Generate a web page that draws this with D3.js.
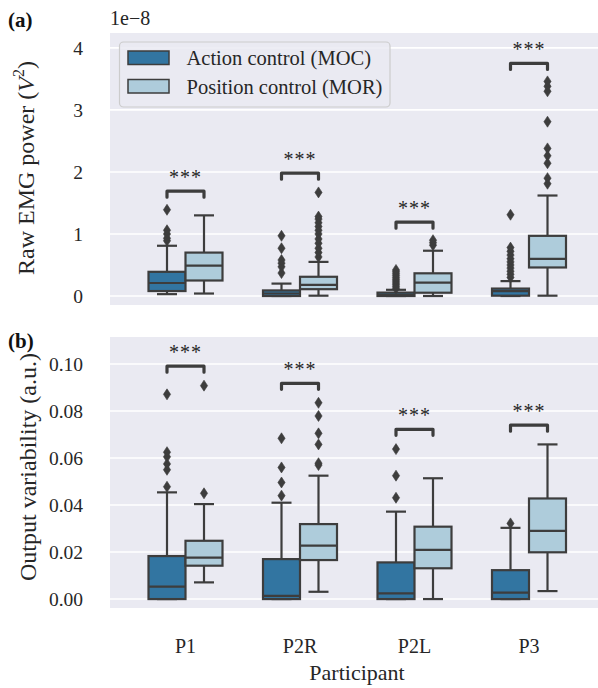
<!DOCTYPE html>
<html><head><meta charset="utf-8">
<script src="https://cdn.jsdelivr.net/npm/d3@7"></script>
<style>body{margin:0;background:#fff}svg{display:block}</style>
</head><body>
<svg id="chart" width="598" height="688"></svg>
<script>
const categories = ["P1", "P2R", "P2L", "P3"];
const hueNames = ["Action control (MOC)", "Position control (MOR)"];
const hueColors = ["#3275a1", "#aeccdb"];

// Panel (a): raw EMG power (x 1e-8), stats = [whiskerLow, q1, median, q3, whiskerHigh]
const emgMOCStats = [[0.03, 0.08, 0.21, 0.39, 0.81], [0.0, 0.0, 0.04, 0.09, 0.20], [0.0, 0.0, 0.02, 0.055, 0.10], [0.0, 0.005, 0.08, 0.12, 0.24]];
const emgMORStats = [[0.04, 0.25, 0.49, 0.70, 1.30], [0.005, 0.11, 0.18, 0.31, 0.55], [0.0, 0.053, 0.215, 0.366, 0.73], [0.005, 0.46, 0.60, 0.97, 1.62]];
const emgMOCOutliers = [[0.89, 0.93, 1.0, 1.06, 1.39], [0.37, 0.47, 0.53, 0.58, 0.77, 0.97], [0.12, 0.15, 0.18, 0.21, 0.24, 0.27, 0.30, 0.33, 0.36, 0.39, 0.42], [0.30, 0.35, 0.40, 0.45, 0.50, 0.55, 0.60, 0.66, 0.72, 0.78, 1.31]];
const emgMOROutliers = [[], [0.63, 0.70, 0.77, 0.85, 0.92, 1.0, 1.06, 1.12, 1.18, 1.24, 1.28, 1.67], [0.82, 0.86, 0.90], [1.81, 1.90, 2.14, 2.26, 2.38, 2.81, 3.30, 3.38, 3.46]];
const emgBrackets = [1.69, 1.98, 1.19, 3.75];
const emgTicks = [0, 1, 2, 3, 4];

// Panel (b): output variability
const varMOCStats = [[0, 0, 0.0053, 0.0183, 0.0454], [0, 0, 0.0014, 0.017, 0.041], [0, 0, 0.0024, 0.0156, 0.0372], [0, 0, 0.0027, 0.0123, 0.0303]];
const varMORStats = [[0.0071, 0.0142, 0.0176, 0.0248, 0.0404], [0.0031, 0.0166, 0.0227, 0.0319, 0.0525], [0, 0.0131, 0.0209, 0.0308, 0.0514], [0.0034, 0.0199, 0.029, 0.0428, 0.0658]];
const varMOCOutliers = [[0.0478, 0.055, 0.0575, 0.0605, 0.0625, 0.0871], [0.044, 0.0496, 0.056, 0.0684], [0.0431, 0.0525, 0.0638], [0.0322]];
const varMOROutliers = [[0.045, 0.0908], [0.057, 0.0578, 0.0658, 0.0705, 0.0779, 0.0835], [], []];
const varBrackets = [0.0991, 0.0918, 0.0722, 0.074];
const varTicks = [0, 0.02, 0.04, 0.06, 0.08, 0.10];

const sigLabel = "***";

const svg = d3.select("#chart");
const FONT = "'Liberation Serif','Times New Roman',serif";
const LINE = "#3d3d3d";
const BG = "#eaeaf2";
const panelLeft = 110, panelRight = 598;
const boxW = 37;

const x = d3.scalePoint().domain(categories).range([185.5, 529]);

function drawPanel(opts) {
  const {y, top, bottom, ticks, fmt, moc, mor, mocOut, morOut, brackets} = opts;
  const g = svg.append("g");
  g.append("rect").attr("x", panelLeft).attr("y", top).attr("width", panelRight - panelLeft).attr("height", bottom - top).attr("fill", BG);
  g.selectAll("line.grid").data(ticks).join("line")
    .attr("x1", panelLeft).attr("x2", panelRight)
    .attr("y1", d => y(d)).attr("y2", d => y(d))
    .attr("stroke", "#fff").attr("stroke-width", 1.6);
  g.selectAll("text.tick").data(ticks).join("text")
    .attr("x", 83).attr("y", d => y(d)).attr("dy", "0.36em")
    .attr("text-anchor", "end").attr("font-family", FONT).attr("font-size", 19.5).attr("fill", "#262626")
    .text(fmt);

  const series = [moc, mor];
  const outs = [mocOut, morOut];
  series.forEach((stats, h) => {
    categories.forEach((c, i) => {
      const s = stats[i];
      const cx = x(c) + (h === 0 ? -boxW / 2 : boxW / 2);
      const bx = cx - boxW / 2;
      g.append("line").attr("x1", cx).attr("x2", cx).attr("y1", y(s[0])).attr("y2", y(s[1]))
        .attr("stroke", LINE).attr("stroke-width", 2.2);
      g.append("line").attr("x1", cx).attr("x2", cx).attr("y1", y(s[3])).attr("y2", y(s[4]))
        .attr("stroke", LINE).attr("stroke-width", 2.2);
      [s[0], s[4]].forEach(v => {
        g.append("line").attr("x1", cx - 10).attr("x2", cx + 10).attr("y1", y(v)).attr("y2", y(v))
          .attr("stroke", LINE).attr("stroke-width", 2.2);
      });
      g.append("rect").attr("x", bx).attr("y", y(s[3])).attr("width", boxW)
        .attr("height", Math.max(0.5, y(s[1]) - y(s[3])))
        .attr("fill", hueColors[h]).attr("stroke", LINE).attr("stroke-width", 2.2);
      g.append("line").attr("x1", bx).attr("x2", bx + boxW).attr("y1", y(s[2])).attr("y2", y(s[2]))
        .attr("stroke", LINE).attr("stroke-width", 2.2);
      g.selectAll(null).data(outs[h][i]).join("path")
        .attr("d", "M0,-5.5L3.6,0L0,5.5L-3.6,0Z")
        .attr("transform", v => `translate(${cx},${y(v)})`)
        .attr("fill", LINE).attr("stroke", LINE).attr("stroke-width", 0.6);
    });
  });
  categories.forEach((c, i) => {
    const x1 = x(c) - boxW / 2, x2 = x(c) + boxW / 2;
    const yb = y(brackets[i]);
    g.append("path").attr("d", `M${x1},${yb + 6}L${x1},${yb}L${x2},${yb}L${x2},${yb + 6}`)
      .attr("fill", "none").attr("stroke", LINE).attr("stroke-width", 3.2)
      .attr("stroke-linejoin", "round").attr("stroke-linecap", "round");
    g.append("text").attr("x", x(c)).attr("y", yb - 7).attr("text-anchor", "middle")
      .attr("font-family", FONT).attr("font-size", 20).attr("letter-spacing", 1).attr("fill", "#262626").text(sigLabel);
  });
  return g;
}

const yTop = d3.scaleLinear().domain([-0.145, 4.24]).range([305, 33]);
const yBot = d3.scaleLinear().domain([-0.0038, 0.1115]).range([608, 337]);

drawPanel({y: yTop, top: 33, bottom: 305, ticks: emgTicks, fmt: d3.format("d"),
  moc: emgMOCStats, mor: emgMORStats, mocOut: emgMOCOutliers, morOut: emgMOROutliers, brackets: emgBrackets});
drawPanel({y: yBot, top: 337, bottom: 608, ticks: varTicks, fmt: d3.format(".2f"),
  moc: varMOCStats, mor: varMORStats, mocOut: varMOCOutliers, morOut: varMOROutliers, brackets: varBrackets});

// legend
const leg = svg.append("g");
leg.append("rect").attr("x", 119.5).attr("y", 42).attr("width", 270.5).attr("height", 65).attr("rx", 4)
  .attr("fill", BG).attr("fill-opacity", 0.85).attr("stroke", "#cccccc").attr("stroke-width", 1.2);
hueNames.forEach((n, i) => {
  const yy = 51 + i * 28.5;
  leg.append("rect").attr("x", 128).attr("y", yy).attr("width", 41).attr("height", 13.5)
    .attr("fill", hueColors[i]).attr("stroke", LINE).attr("stroke-width", 1.5);
  leg.append("text").attr("x", 186.5).attr("y", yy + 14).attr("font-family", FONT).attr("font-size", 20.5)
    .attr("fill", "#262626").text(n);
});

// x tick labels
svg.selectAll("text.xt").data(categories).join("text")
  .attr("x", d => x(d)).attr("y", 653).attr("text-anchor", "middle")
  .attr("font-family", FONT).attr("font-size", 20).attr("fill", "#262626").text(d => d);
svg.append("text").attr("x", 357).attr("y", 680).attr("text-anchor", "middle")
  .attr("font-family", FONT).attr("font-size", 22).attr("fill", "#262626").text("Participant");

// y labels
const yl1 = svg.append("text").attr("transform", "translate(34,168) rotate(-90)").attr("text-anchor", "middle")
  .attr("font-family", FONT).attr("font-size", 24).attr("fill", "#262626");
yl1.append("tspan").text("Raw EMG power (");
yl1.append("tspan").attr("font-style", "italic").text("V");
yl1.append("tspan").attr("font-size", 16).attr("dy", -10).text("2");
yl1.append("tspan").attr("dy", 10).text(")");
svg.append("text").attr("transform", "translate(36,467) rotate(-90)").attr("text-anchor", "middle")
  .attr("font-family", FONT).attr("font-size", 24).attr("fill", "#262626").text("Output variability (a.u.)");

// panel letters and offset
svg.append("text").attr("x", 8).attr("y", 27).attr("font-family", FONT).attr("font-weight", "bold")
  .attr("font-size", 21).attr("fill", "#111").text("(a)");
svg.append("text").attr("x", 8).attr("y", 348).attr("font-family", FONT).attr("font-weight", "bold")
  .attr("font-size", 21).attr("fill", "#111").text("(b)");
svg.append("text").attr("x", 110).attr("y", 25).attr("font-family", FONT).attr("font-size", 20)
  .attr("fill", "#262626").text("1e\u22128");
</script>
</body></html>
